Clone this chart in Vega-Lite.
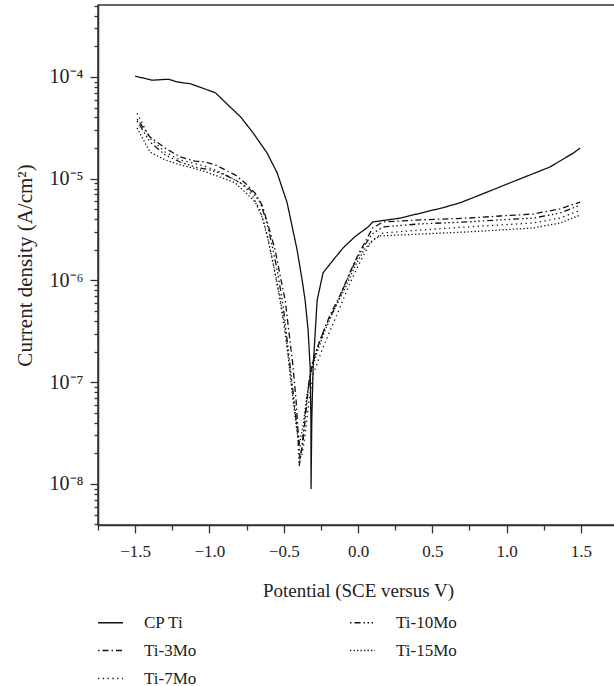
{
  "$schema": "https://vega.github.io/schema/vega-lite/v6.json",
  "autosize": {"type": "none"},
  "padding": {"left": 98, "top": 5, "right": 0, "bottom": 161},
  "width": 520,
  "height": 520,
  "background": "white",
  "config": {
    "font": "Liberation Serif",
    "view": {"stroke": "#333", "strokeWidth": 1.5},
    "axis": {"domainColor": "#333", "domainWidth": 1.5, "tickColor": "#333", "tickWidth": 1.3, "labelColor": "#222", "titleColor": "#222", "labelFont": "Liberation Serif", "titleFont": "Liberation Serif", "titleFontWeight": "normal", "grid": false}
  },
  "data": {"values": [
    {"s":"CP Ti","i":0,"x":-1.5,"y":1.02e-4},
    {"s":"CP Ti","i":1,"x":-1.386,"y":9.3e-5},
    {"s":"CP Ti","i":2,"x":-1.278,"y":9.5e-5},
    {"s":"CP Ti","i":3,"x":-1.21,"y":8.9e-5},
    {"s":"CP Ti","i":4,"x":-1.13,"y":8.6e-5},
    {"s":"CP Ti","i":5,"x":-1.06,"y":7.9e-5},
    {"s":"CP Ti","i":6,"x":-0.96,"y":7.0e-5},
    {"s":"CP Ti","i":7,"x":-0.88,"y":5.4e-5},
    {"s":"CP Ti","i":8,"x":-0.79,"y":4.05e-5},
    {"s":"CP Ti","i":9,"x":-0.706,"y":2.82e-5},
    {"s":"CP Ti","i":10,"x":-0.612,"y":1.79e-5},
    {"s":"CP Ti","i":11,"x":-0.544,"y":1.14e-5},
    {"s":"CP Ti","i":12,"x":-0.477,"y":5.8e-6},
    {"s":"CP Ti","i":13,"x":-0.41,"y":2.0e-6},
    {"s":"CP Ti","i":14,"x":-0.376,"y":1.01e-6},
    {"s":"CP Ti","i":15,"x":-0.356,"y":6.4e-7},
    {"s":"CP Ti","i":16,"x":-0.336,"y":3.26e-7},
    {"s":"CP Ti","i":17,"x":-0.322,"y":1.41e-7},
    {"s":"CP Ti","i":18,"x":-0.317,"y":4.3e-8},
    {"s":"CP Ti","i":19,"x":-0.316,"y":8.9e-9},
    {"s":"CP Ti","i":20,"x":-0.311,"y":4.3e-8},
    {"s":"CP Ti","i":21,"x":-0.302,"y":1.41e-7},
    {"s":"CP Ti","i":22,"x":-0.275,"y":6.4e-7},
    {"s":"CP Ti","i":23,"x":-0.235,"y":1.19e-6},
    {"s":"CP Ti","i":24,"x":-0.168,"y":1.58e-6},
    {"s":"CP Ti","i":25,"x":-0.10,"y":2.09e-6},
    {"s":"CP Ti","i":26,"x":-0.02,"y":2.7e-6},
    {"s":"CP Ti","i":27,"x":0.068,"y":3.36e-6},
    {"s":"CP Ti","i":28,"x":0.10,"y":3.76e-6},
    {"s":"CP Ti","i":29,"x":0.283,"y":4.1e-6},
    {"s":"CP Ti","i":30,"x":0.573,"y":5.2e-6},
    {"s":"CP Ti","i":31,"x":0.687,"y":5.8e-6},
    {"s":"CP Ti","i":32,"x":0.87,"y":7.4e-6},
    {"s":"CP Ti","i":33,"x":1.07,"y":9.7e-6},
    {"s":"CP Ti","i":34,"x":1.29,"y":1.30e-5},
    {"s":"CP Ti","i":35,"x":1.45,"y":1.79e-5},
    {"s":"CP Ti","i":36,"x":1.495,"y":2.0e-5},

    {"s":"Ti-3Mo","i":0,"x":-1.487,"y":3.86e-5},
    {"s":"Ti-3Mo","i":1,"x":-1.40,"y":2.57e-5},
    {"s":"Ti-3Mo","i":2,"x":-1.298,"y":2.0e-5},
    {"s":"Ti-3Mo","i":3,"x":-1.197,"y":1.64e-5},
    {"s":"Ti-3Mo","i":4,"x":-1.096,"y":1.49e-5},
    {"s":"Ti-3Mo","i":5,"x":-1.029,"y":1.46e-5},
    {"s":"Ti-3Mo","i":6,"x":-0.961,"y":1.37e-5},
    {"s":"Ti-3Mo","i":7,"x":-0.894,"y":1.22e-5},
    {"s":"Ti-3Mo","i":8,"x":-0.827,"y":1.09e-5},
    {"s":"Ti-3Mo","i":9,"x":-0.760,"y":9.1e-6},
    {"s":"Ti-3Mo","i":10,"x":-0.692,"y":7.2e-6},
    {"s":"Ti-3Mo","i":11,"x":-0.645,"y":5.5e-6},
    {"s":"Ti-3Mo","i":12,"x":-0.605,"y":3.5e-6},
    {"s":"Ti-3Mo","i":13,"x":-0.558,"y":2.0e-6},
    {"s":"Ti-3Mo","i":14,"x":-0.518,"y":1.01e-6},
    {"s":"Ti-3Mo","i":15,"x":-0.49,"y":6.4e-7},
    {"s":"Ti-3Mo","i":16,"x":-0.464,"y":3.05e-7},
    {"s":"Ti-3Mo","i":17,"x":-0.437,"y":1.41e-7},
    {"s":"Ti-3Mo","i":18,"x":-0.417,"y":6.7e-8},
    {"s":"Ti-3Mo","i":19,"x":-0.403,"y":3.2e-8},
    {"s":"Ti-3Mo","i":20,"x":-0.39,"y":1.72e-8},
    {"s":"Ti-3Mo","i":21,"x":-0.369,"y":2.7e-8},
    {"s":"Ti-3Mo","i":22,"x":-0.349,"y":5.4e-8},
    {"s":"Ti-3Mo","i":23,"x":-0.329,"y":1.05e-7},
    {"s":"Ti-3Mo","i":24,"x":-0.302,"y":1.66e-7},
    {"s":"Ti-3Mo","i":25,"x":-0.255,"y":2.6e-7},
    {"s":"Ti-3Mo","i":26,"x":-0.188,"y":4.6e-7},
    {"s":"Ti-3Mo","i":27,"x":-0.12,"y":7.2e-7},
    {"s":"Ti-3Mo","i":28,"x":-0.053,"y":1.21e-6},
    {"s":"Ti-3Mo","i":29,"x":0.0,"y":1.78e-6},
    {"s":"Ti-3Mo","i":30,"x":0.055,"y":2.5e-6},
    {"s":"Ti-3Mo","i":31,"x":0.10,"y":3.3e-6},
    {"s":"Ti-3Mo","i":32,"x":0.169,"y":3.76e-6},
    {"s":"Ti-3Mo","i":33,"x":0.418,"y":3.94e-6},
    {"s":"Ti-3Mo","i":34,"x":0.734,"y":4.1e-6},
    {"s":"Ti-3Mo","i":35,"x":0.956,"y":4.3e-6},
    {"s":"Ti-3Mo","i":36,"x":1.178,"y":4.5e-6},
    {"s":"Ti-3Mo","i":37,"x":1.36,"y":5.05e-6},
    {"s":"Ti-3Mo","i":38,"x":1.495,"y":5.9e-6},

    {"s":"Ti-10Mo","i":0,"x":-1.487,"y":3.7e-5},
    {"s":"Ti-10Mo","i":1,"x":-1.40,"y":2.3e-5},
    {"s":"Ti-10Mo","i":2,"x":-1.298,"y":1.71e-5},
    {"s":"Ti-10Mo","i":3,"x":-1.197,"y":1.46e-5},
    {"s":"Ti-10Mo","i":4,"x":-1.096,"y":1.30e-5},
    {"s":"Ti-10Mo","i":5,"x":-0.995,"y":1.22e-5},
    {"s":"Ti-10Mo","i":6,"x":-0.894,"y":1.09e-5},
    {"s":"Ti-10Mo","i":7,"x":-0.793,"y":9.1e-6},
    {"s":"Ti-10Mo","i":8,"x":-0.726,"y":7.8e-6},
    {"s":"Ti-10Mo","i":9,"x":-0.659,"y":5.9e-6},
    {"s":"Ti-10Mo","i":10,"x":-0.618,"y":3.9e-6},
    {"s":"Ti-10Mo","i":11,"x":-0.578,"y":2.23e-6},
    {"s":"Ti-10Mo","i":12,"x":-0.538,"y":1.13e-6},
    {"s":"Ti-10Mo","i":13,"x":-0.504,"y":5.7e-7},
    {"s":"Ti-10Mo","i":14,"x":-0.477,"y":2.6e-7},
    {"s":"Ti-10Mo","i":15,"x":-0.45,"y":1.18e-7},
    {"s":"Ti-10Mo","i":16,"x":-0.423,"y":5.3e-8},
    {"s":"Ti-10Mo","i":17,"x":-0.403,"y":2.7e-8},
    {"s":"Ti-10Mo","i":18,"x":-0.396,"y":1.5e-8},
    {"s":"Ti-10Mo","i":19,"x":-0.376,"y":2.4e-8},
    {"s":"Ti-10Mo","i":20,"x":-0.356,"y":4.8e-8},
    {"s":"Ti-10Mo","i":21,"x":-0.336,"y":8.4e-8},
    {"s":"Ti-10Mo","i":22,"x":-0.309,"y":1.48e-7},
    {"s":"Ti-10Mo","i":23,"x":-0.268,"y":2.3e-7},
    {"s":"Ti-10Mo","i":24,"x":-0.215,"y":3.65e-7},
    {"s":"Ti-10Mo","i":25,"x":-0.147,"y":5.7e-7},
    {"s":"Ti-10Mo","i":26,"x":-0.08,"y":9.7e-7},
    {"s":"Ti-10Mo","i":27,"x":-0.02,"y":1.52e-6},
    {"s":"Ti-10Mo","i":28,"x":0.041,"y":2.18e-6},
    {"s":"Ti-10Mo","i":29,"x":0.095,"y":2.86e-6},
    {"s":"Ti-10Mo","i":30,"x":0.169,"y":3.36e-6},
    {"s":"Ti-10Mo","i":31,"x":0.418,"y":3.6e-6},
    {"s":"Ti-10Mo","i":32,"x":0.734,"y":3.76e-6},
    {"s":"Ti-10Mo","i":33,"x":0.956,"y":3.94e-6},
    {"s":"Ti-10Mo","i":34,"x":1.178,"y":4.1e-6},
    {"s":"Ti-10Mo","i":35,"x":1.36,"y":4.6e-6},
    {"s":"Ti-10Mo","i":36,"x":1.495,"y":5.5e-6},

    {"s":"Ti-7Mo","i":0,"x":-1.487,"y":4.4e-5},
    {"s":"Ti-7Mo","i":1,"x":-1.40,"y":2.5e-5},
    {"s":"Ti-7Mo","i":2,"x":-1.298,"y":1.83e-5},
    {"s":"Ti-7Mo","i":3,"x":-1.197,"y":1.53e-5},
    {"s":"Ti-7Mo","i":4,"x":-1.063,"y":1.37e-5},
    {"s":"Ti-7Mo","i":5,"x":-0.961,"y":1.22e-5},
    {"s":"Ti-7Mo","i":6,"x":-0.861,"y":1.04e-5},
    {"s":"Ti-7Mo","i":7,"x":-0.78,"y":8.9e-6},
    {"s":"Ti-7Mo","i":8,"x":-0.713,"y":6.9e-6},
    {"s":"Ti-7Mo","i":9,"x":-0.659,"y":4.9e-6},
    {"s":"Ti-7Mo","i":10,"x":-0.618,"y":3.1e-6},
    {"s":"Ti-7Mo","i":11,"x":-0.578,"y":1.66e-6},
    {"s":"Ti-7Mo","i":12,"x":-0.538,"y":8.1e-7},
    {"s":"Ti-7Mo","i":13,"x":-0.504,"y":4.1e-7},
    {"s":"Ti-7Mo","i":14,"x":-0.47,"y":1.85e-7},
    {"s":"Ti-7Mo","i":15,"x":-0.443,"y":8.4e-8},
    {"s":"Ti-7Mo","i":16,"x":-0.417,"y":4.3e-8},
    {"s":"Ti-7Mo","i":17,"x":-0.39,"y":2.4e-8},
    {"s":"Ti-7Mo","i":18,"x":-0.376,"y":1.93e-8},
    {"s":"Ti-7Mo","i":19,"x":-0.356,"y":3.0e-8},
    {"s":"Ti-7Mo","i":20,"x":-0.329,"y":6.7e-8},
    {"s":"Ti-7Mo","i":21,"x":-0.302,"y":1.18e-7},
    {"s":"Ti-7Mo","i":22,"x":-0.255,"y":1.85e-7},
    {"s":"Ti-7Mo","i":23,"x":-0.201,"y":2.9e-7},
    {"s":"Ti-7Mo","i":24,"x":-0.134,"y":4.9e-7},
    {"s":"Ti-7Mo","i":25,"x":-0.073,"y":8.1e-7},
    {"s":"Ti-7Mo","i":26,"x":-0.013,"y":1.27e-6},
    {"s":"Ti-7Mo","i":27,"x":0.048,"y":1.9e-6},
    {"s":"Ti-7Mo","i":28,"x":0.10,"y":2.5e-6},
    {"s":"Ti-7Mo","i":29,"x":0.169,"y":2.93e-6},
    {"s":"Ti-7Mo","i":30,"x":0.418,"y":3.13e-6},
    {"s":"Ti-7Mo","i":31,"x":0.734,"y":3.36e-6},
    {"s":"Ti-7Mo","i":32,"x":1.178,"y":3.67e-6},
    {"s":"Ti-7Mo","i":33,"x":1.36,"y":4.1e-6},
    {"s":"Ti-7Mo","i":34,"x":1.495,"y":4.9e-6},

    {"s":"Ti-15Mo","i":0,"x":-1.487,"y":3.15e-5},
    {"s":"Ti-15Mo","i":1,"x":-1.40,"y":1.83e-5},
    {"s":"Ti-15Mo","i":2,"x":-1.298,"y":1.53e-5},
    {"s":"Ti-15Mo","i":3,"x":-1.197,"y":1.37e-5},
    {"s":"Ti-15Mo","i":4,"x":-1.063,"y":1.22e-5},
    {"s":"Ti-15Mo","i":5,"x":-0.928,"y":1.04e-5},
    {"s":"Ti-15Mo","i":6,"x":-0.827,"y":9.1e-6},
    {"s":"Ti-15Mo","i":7,"x":-0.76,"y":7.4e-6},
    {"s":"Ti-15Mo","i":8,"x":-0.692,"y":5.9e-6},
    {"s":"Ti-15Mo","i":9,"x":-0.645,"y":4.2e-6},
    {"s":"Ti-15Mo","i":10,"x":-0.605,"y":2.5e-6},
    {"s":"Ti-15Mo","i":11,"x":-0.565,"y":1.33e-6},
    {"s":"Ti-15Mo","i":12,"x":-0.524,"y":6.7e-7},
    {"s":"Ti-15Mo","i":13,"x":-0.49,"y":3.26e-7},
    {"s":"Ti-15Mo","i":14,"x":-0.464,"y":1.48e-7},
    {"s":"Ti-15Mo","i":15,"x":-0.437,"y":6.7e-8},
    {"s":"Ti-15Mo","i":16,"x":-0.417,"y":3.8e-8},
    {"s":"Ti-15Mo","i":17,"x":-0.396,"y":2.4e-8},
    {"s":"Ti-15Mo","i":18,"x":-0.369,"y":3.8e-8},
    {"s":"Ti-15Mo","i":19,"x":-0.343,"y":7.5e-8},
    {"s":"Ti-15Mo","i":20,"x":-0.316,"y":1.26e-7},
    {"s":"Ti-15Mo","i":21,"x":-0.275,"y":1.98e-7},
    {"s":"Ti-15Mo","i":22,"x":-0.221,"y":3.26e-7},
    {"s":"Ti-15Mo","i":23,"x":-0.154,"y":5.4e-7},
    {"s":"Ti-15Mo","i":24,"x":-0.087,"y":8.4e-7},
    {"s":"Ti-15Mo","i":25,"x":-0.02,"y":1.39e-6},
    {"s":"Ti-15Mo","i":26,"x":0.041,"y":2.0e-6},
    {"s":"Ti-15Mo","i":27,"x":0.10,"y":2.5e-6},
    {"s":"Ti-15Mo","i":28,"x":0.149,"y":2.74e-6},
    {"s":"Ti-15Mo","i":29,"x":0.418,"y":2.86e-6},
    {"s":"Ti-15Mo","i":30,"x":0.734,"y":3.0e-6},
    {"s":"Ti-15Mo","i":31,"x":1.178,"y":3.28e-6},
    {"s":"Ti-15Mo","i":32,"x":1.36,"y":3.67e-6},
    {"s":"Ti-15Mo","i":33,"x":1.495,"y":4.4e-6}
  ]},
  "mark": {"type": "line", "color": "#111", "strokeWidth": 1.3, "clip": true},
  "encoding": {
    "x": {
      "field": "x", "type": "quantitative",
      "scale": {"domain": [-1.75, 1.75], "nice": false, "zero": false},
      "axis": {
        "title": "Potential (SCE versus V)",
        "values": [-1.75, -1.5, -1.25, -1.0, -0.75, -0.5, -0.25, 0, 0.25, 0.5, 0.75, 1.0, 1.25, 1.5, 1.75],
        "labelExpr": "abs(datum.value*2 - round(datum.value*2)) < 0.001 && abs(datum.value) < 1.7 ? replace(format(datum.value, '.1f'), '-', '\u2212') : ''",
        "labelOverlap": false,
        "labelFontSize": 17,
        "labelPadding": 10,
        "titleFontSize": 19,
        "titlePadding": 22,
        "tickSize": {"condition": {"test": "abs(datum.value*2 - round(datum.value*2)) < 0.001", "value": 8}, "value": 5}
      }
    },
    "y": {
      "field": "y", "type": "quantitative",
      "scale": {"type": "log", "domain": [3.95e-9, 5.1e-4], "nice": false},
      "axis": {
        "title": "Current density (A/cm\u00b2)",
        "values": [4e-9,5e-9,6e-9,7e-9,8e-9,9e-9,1e-8,2e-8,3e-8,4e-8,5e-8,6e-8,7e-8,8e-8,9e-8,1e-7,2e-7,3e-7,4e-7,5e-7,6e-7,7e-7,8e-7,9e-7,1e-6,2e-6,3e-6,4e-6,5e-6,6e-6,7e-6,8e-6,9e-6,1e-5,2e-5,3e-5,4e-5,5e-5,6e-5,7e-5,8e-5,9e-5,1e-4,2e-4,3e-4,4e-4,5e-4],
        "labelExpr": "datum.value == 1e-4 ? '10\u207b\u2074' : datum.value == 1e-5 ? '10\u207b\u2075' : datum.value == 1e-6 ? '10\u207b\u2076' : datum.value == 1e-7 ? '10\u207b\u2077' : datum.value == 1e-8 ? '10\u207b\u2078' : ''",
        "labelOverlap": false,
        "labelFontSize": 20,
        "labelPadding": 7,
        "titleFontSize": 21,
        "titlePadding": 14,
        "tickSize": {"condition": {"test": "datum.value == 1e-4 || datum.value == 1e-5 || datum.value == 1e-6 || datum.value == 1e-7 || datum.value == 1e-8", "value": 8}, "value": 4}
      }
    },
    "strokeDash": {
      "field": "s", "type": "nominal",
      "scale": {
        "domain": ["CP Ti", "Ti-3Mo", "Ti-7Mo", "Ti-10Mo", "Ti-15Mo"],
        "range": [[1, 0], [1.5, 3, 6, 3], [1.3, 3.5], [1.5, 3, 6, 3, 1.5, 2.5, 1.5, 2.5, 1.5, 3], [1.3, 2.2]]
      },
      "legend": {
        "orient": "none",
        "legendX": -1,
        "legendY": 604,
        "columns": 2,
        "title": null,
        "symbolType": "stroke",
        "symbolSize": 625,
        "symbolStrokeWidth": 1.3,
        "symbolStrokeColor": "#111",
        "labelFontSize": 17,
        "labelColor": "#222",
        "labelFont": "Liberation Serif",
        "labelOffset": 20,
        "columnPadding": 150,
        "rowPadding": 6
      }
    },
    "order": {"field": "i", "type": "quantitative"}
  }
}
